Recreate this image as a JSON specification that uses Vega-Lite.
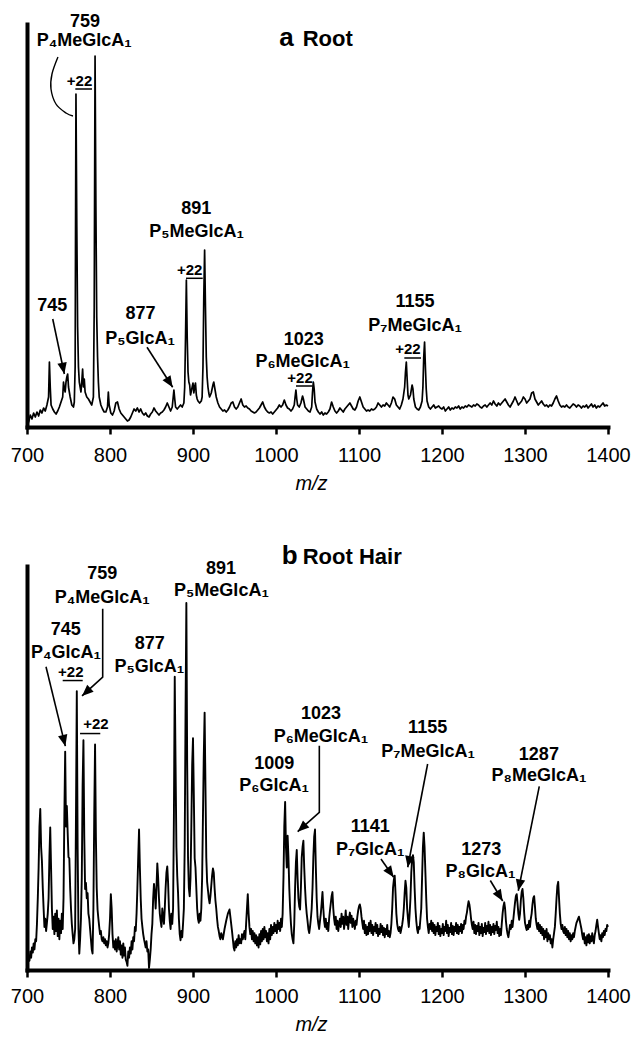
{
"$schema":"https://vega.github.io/schema/vega-lite/v6.json",
"padding":{"left":10,"top":13,"right":0,"bottom":0},
"spacing":139,
"bounds":"flush",
"config":{"view":{"stroke":null},"font":"Liberation Sans","axis":{"grid":false,"domainColor":"black","tickColor":"black","labelColor":"black","titleColor":"black","domainCap":"square"}},
"datasets":{
"specA":[{"mz":700,"i":8},{"mz":702,"i":5},{"mz":704,"i":12},{"mz":706,"i":8},{"mz":708,"i":14},{"mz":710,"i":10},{"mz":712,"i":15},{"mz":714,"i":11},{"mz":716,"i":17},{"mz":718,"i":14},{"mz":720,"i":19},{"mz":722,"i":16},{"mz":724,"i":22},{"mz":726,"i":30},{"mz":727,"i":65},{"mz":728,"i":40},{"mz":729,"i":22},{"mz":731,"i":18},{"mz":733,"i":15},{"mz":735,"i":13},{"mz":737,"i":16},{"mz":739,"i":20},{"mz":741,"i":25},{"mz":743,"i":30},{"mz":744,"i":45},{"mz":745,"i":38},{"mz":746,"i":35},{"mz":747,"i":45},{"mz":748,"i":50},{"mz":749,"i":53},{"mz":750,"i":40},{"mz":752,"i":30},{"mz":754,"i":22},{"mz":756,"i":20},{"mz":757,"i":25},{"mz":758,"i":60},{"mz":759,"i":333},{"mz":760,"i":200},{"mz":761,"i":100},{"mz":762,"i":60},{"mz":763,"i":45},{"mz":764,"i":40},{"mz":765,"i":35},{"mz":766,"i":45},{"mz":767,"i":58},{"mz":768,"i":40},{"mz":769,"i":48},{"mz":770,"i":35},{"mz":772,"i":30},{"mz":774,"i":28},{"mz":776,"i":25},{"mz":778,"i":22},{"mz":780,"i":30},{"mz":781,"i":120},{"mz":782,"i":371},{"mz":783,"i":220},{"mz":784,"i":110},{"mz":785,"i":70},{"mz":786,"i":45},{"mz":787,"i":30},{"mz":789,"i":22},{"mz":791,"i":18},{"mz":793,"i":15},{"mz":795,"i":15},{"mz":797,"i":20},{"mz":798,"i":35},{"mz":799,"i":22},{"mz":801,"i":14},{"mz":803,"i":12},{"mz":805,"i":16},{"mz":807,"i":24},{"mz":809,"i":25},{"mz":811,"i":18},{"mz":813,"i":14},{"mz":815,"i":12},{"mz":817,"i":10},{"mz":819,"i":8},{"mz":821,"i":6},{"mz":823,"i":7},{"mz":825,"i":10},{"mz":827,"i":14},{"mz":829,"i":18},{"mz":831,"i":16},{"mz":833,"i":19},{"mz":835,"i":15},{"mz":837,"i":18},{"mz":839,"i":14},{"mz":841,"i":12},{"mz":843,"i":14},{"mz":845,"i":11},{"mz":847,"i":10},{"mz":849,"i":13},{"mz":851,"i":15},{"mz":853,"i":19},{"mz":855,"i":16},{"mz":857,"i":14},{"mz":859,"i":12},{"mz":861,"i":14},{"mz":863,"i":15},{"mz":865,"i":17},{"mz":867,"i":20},{"mz":869,"i":24},{"mz":871,"i":20},{"mz":873,"i":16},{"mz":875,"i":20},{"mz":877,"i":37},{"mz":878,"i":28},{"mz":879,"i":20},{"mz":881,"i":18},{"mz":883,"i":20},{"mz":885,"i":22},{"mz":887,"i":20},{"mz":889,"i":24},{"mz":890,"i":40},{"mz":891,"i":90},{"mz":892,"i":147},{"mz":893,"i":90},{"mz":894,"i":55},{"mz":895,"i":45},{"mz":896,"i":42},{"mz":897,"i":32},{"mz":898,"i":36},{"mz":899,"i":40},{"mz":900,"i":44},{"mz":901,"i":34},{"mz":902,"i":40},{"mz":903,"i":44},{"mz":904,"i":32},{"mz":905,"i":28},{"mz":906,"i":26},{"mz":908,"i":24},{"mz":910,"i":26},{"mz":911,"i":30},{"mz":912,"i":60},{"mz":913,"i":130},{"mz":914,"i":177},{"mz":915,"i":120},{"mz":916,"i":70},{"mz":917,"i":50},{"mz":918,"i":40},{"mz":919,"i":34},{"mz":920,"i":30},{"mz":922,"i":34},{"mz":924,"i":42},{"mz":925,"i":45},{"mz":926,"i":40},{"mz":928,"i":30},{"mz":930,"i":24},{"mz":932,"i":20},{"mz":934,"i":18},{"mz":936,"i":16},{"mz":938,"i":17},{"mz":940,"i":15},{"mz":942,"i":17},{"mz":944,"i":20},{"mz":946,"i":24},{"mz":948,"i":25},{"mz":950,"i":20},{"mz":952,"i":18},{"mz":954,"i":20},{"mz":956,"i":24},{"mz":958,"i":28},{"mz":960,"i":22},{"mz":962,"i":20},{"mz":964,"i":21},{"mz":966,"i":19},{"mz":968,"i":18},{"mz":970,"i":16},{"mz":972,"i":15},{"mz":974,"i":14},{"mz":976,"i":15},{"mz":978,"i":17},{"mz":980,"i":19},{"mz":982,"i":22},{"mz":984,"i":25},{"mz":986,"i":20},{"mz":988,"i":17},{"mz":990,"i":15},{"mz":992,"i":14},{"mz":994,"i":15},{"mz":996,"i":13},{"mz":998,"i":15},{"mz":1000,"i":17},{"mz":1002,"i":19},{"mz":1004,"i":22},{"mz":1006,"i":20},{"mz":1008,"i":22},{"mz":1010,"i":27},{"mz":1012,"i":22},{"mz":1014,"i":19},{"mz":1016,"i":18},{"mz":1018,"i":16},{"mz":1020,"i":18},{"mz":1022,"i":22},{"mz":1023,"i":30},{"mz":1024,"i":37},{"mz":1025,"i":28},{"mz":1026,"i":22},{"mz":1028,"i":20},{"mz":1030,"i":24},{"mz":1032,"i":31},{"mz":1033,"i":28},{"mz":1035,"i":20},{"mz":1037,"i":18},{"mz":1039,"i":16},{"mz":1041,"i":15},{"mz":1043,"i":20},{"mz":1044,"i":35},{"mz":1045,"i":45},{"mz":1046,"i":38},{"mz":1047,"i":25},{"mz":1049,"i":18},{"mz":1051,"i":15},{"mz":1053,"i":13},{"mz":1055,"i":15},{"mz":1057,"i":12},{"mz":1059,"i":14},{"mz":1061,"i":13},{"mz":1063,"i":15},{"mz":1065,"i":18},{"mz":1067,"i":25},{"mz":1069,"i":20},{"mz":1071,"i":16},{"mz":1073,"i":14},{"mz":1075,"i":16},{"mz":1077,"i":19},{"mz":1079,"i":17},{"mz":1081,"i":15},{"mz":1083,"i":18},{"mz":1085,"i":20},{"mz":1087,"i":22},{"mz":1089,"i":24},{"mz":1091,"i":21},{"mz":1093,"i":18},{"mz":1095,"i":17},{"mz":1097,"i":20},{"mz":1099,"i":26},{"mz":1101,"i":30},{"mz":1103,"i":25},{"mz":1105,"i":20},{"mz":1107,"i":18},{"mz":1109,"i":16},{"mz":1111,"i":17},{"mz":1113,"i":16},{"mz":1115,"i":18},{"mz":1117,"i":17},{"mz":1119,"i":18},{"mz":1121,"i":20},{"mz":1123,"i":24},{"mz":1125,"i":22},{"mz":1127,"i":20},{"mz":1129,"i":22},{"mz":1131,"i":21},{"mz":1133,"i":24},{"mz":1135,"i":22},{"mz":1137,"i":20},{"mz":1139,"i":24},{"mz":1141,"i":30},{"mz":1143,"i":28},{"mz":1145,"i":22},{"mz":1147,"i":20},{"mz":1149,"i":18},{"mz":1151,"i":22},{"mz":1153,"i":28},{"mz":1155,"i":40},{"mz":1156,"i":55},{"mz":1157,"i":65},{"mz":1158,"i":48},{"mz":1159,"i":32},{"mz":1160,"i":28},{"mz":1162,"i":32},{"mz":1164,"i":42},{"mz":1165,"i":38},{"mz":1166,"i":28},{"mz":1168,"i":20},{"mz":1170,"i":18},{"mz":1172,"i":17},{"mz":1174,"i":20},{"mz":1176,"i":26},{"mz":1177,"i":40},{"mz":1178,"i":70},{"mz":1179,"i":85},{"mz":1180,"i":60},{"mz":1181,"i":38},{"mz":1182,"i":26},{"mz":1184,"i":20},{"mz":1186,"i":18},{"mz":1188,"i":20},{"mz":1190,"i":22},{"mz":1192,"i":19},{"mz":1194,"i":20},{"mz":1196,"i":21},{"mz":1198,"i":19},{"mz":1200,"i":18},{"mz":1202,"i":20},{"mz":1204,"i":16},{"mz":1206,"i":18},{"mz":1208,"i":20},{"mz":1210,"i":17},{"mz":1212,"i":19},{"mz":1214,"i":18},{"mz":1216,"i":20},{"mz":1218,"i":19},{"mz":1220,"i":21},{"mz":1222,"i":18},{"mz":1224,"i":20},{"mz":1226,"i":19},{"mz":1228,"i":21},{"mz":1230,"i":20},{"mz":1232,"i":22},{"mz":1234,"i":21},{"mz":1236,"i":20},{"mz":1238,"i":22},{"mz":1240,"i":21},{"mz":1242,"i":23},{"mz":1244,"i":22},{"mz":1246,"i":20},{"mz":1248,"i":19},{"mz":1250,"i":21},{"mz":1252,"i":22},{"mz":1254,"i":20},{"mz":1256,"i":22},{"mz":1258,"i":24},{"mz":1260,"i":22},{"mz":1262,"i":26},{"mz":1264,"i":23},{"mz":1266,"i":21},{"mz":1268,"i":24},{"mz":1270,"i":22},{"mz":1272,"i":24},{"mz":1274,"i":26},{"mz":1276,"i":28},{"mz":1278,"i":25},{"mz":1280,"i":22},{"mz":1282,"i":20},{"mz":1284,"i":23},{"mz":1286,"i":26},{"mz":1288,"i":30},{"mz":1290,"i":26},{"mz":1292,"i":22},{"mz":1294,"i":24},{"mz":1296,"i":26},{"mz":1298,"i":30},{"mz":1300,"i":28},{"mz":1302,"i":24},{"mz":1304,"i":26},{"mz":1306,"i":28},{"mz":1308,"i":34},{"mz":1310,"i":35},{"mz":1312,"i":28},{"mz":1314,"i":25},{"mz":1316,"i":22},{"mz":1318,"i":24},{"mz":1320,"i":26},{"mz":1322,"i":23},{"mz":1324,"i":21},{"mz":1326,"i":22},{"mz":1328,"i":20},{"mz":1330,"i":22},{"mz":1332,"i":21},{"mz":1334,"i":24},{"mz":1336,"i":28},{"mz":1338,"i":31},{"mz":1340,"i":26},{"mz":1342,"i":22},{"mz":1344,"i":20},{"mz":1346,"i":21},{"mz":1348,"i":20},{"mz":1350,"i":22},{"mz":1352,"i":20},{"mz":1354,"i":19},{"mz":1356,"i":21},{"mz":1358,"i":23},{"mz":1360,"i":22},{"mz":1362,"i":20},{"mz":1364,"i":22},{"mz":1366,"i":21},{"mz":1368,"i":19},{"mz":1370,"i":21},{"mz":1372,"i":20},{"mz":1374,"i":22},{"mz":1376,"i":19},{"mz":1378,"i":21},{"mz":1380,"i":23},{"mz":1382,"i":20},{"mz":1384,"i":22},{"mz":1386,"i":19},{"mz":1388,"i":21},{"mz":1390,"i":20},{"mz":1392,"i":22},{"mz":1394,"i":24},{"mz":1396,"i":21},{"mz":1398,"i":22},{"mz":1400,"i":21}],
"specB":[{"mz":700,"i":10},{"mz":701,"i":6},{"mz":702,"i":14},{"mz":703,"i":9},{"mz":704,"i":18},{"mz":705,"i":12},{"mz":706,"i":22},{"mz":707,"i":17},{"mz":708,"i":26},{"mz":709,"i":20},{"mz":710,"i":30},{"mz":711,"i":28},{"mz":712,"i":45},{"mz":713,"i":70},{"mz":714,"i":100},{"mz":715,"i":140},{"mz":716,"i":157},{"mz":717,"i":120},{"mz":718,"i":106},{"mz":719,"i":80},{"mz":720,"i":60},{"mz":721,"i":42},{"mz":722,"i":50},{"mz":723,"i":38},{"mz":724,"i":46},{"mz":725,"i":55},{"mz":726,"i":70},{"mz":727,"i":110},{"mz":728,"i":139},{"mz":729,"i":100},{"mz":730,"i":60},{"mz":731,"i":40},{"mz":732,"i":52},{"mz":733,"i":35},{"mz":734,"i":55},{"mz":735,"i":38},{"mz":736,"i":58},{"mz":737,"i":33},{"mz":738,"i":50},{"mz":739,"i":30},{"mz":740,"i":48},{"mz":741,"i":36},{"mz":742,"i":55},{"mz":743,"i":40},{"mz":744,"i":70},{"mz":745,"i":150},{"mz":746,"i":213},{"mz":747,"i":140},{"mz":748,"i":160},{"mz":749,"i":134},{"mz":750,"i":110},{"mz":751,"i":109},{"mz":752,"i":80},{"mz":753,"i":60},{"mz":754,"i":45},{"mz":755,"i":35},{"mz":756,"i":26},{"mz":757,"i":30},{"mz":758,"i":40},{"mz":759,"i":150},{"mz":760,"i":272},{"mz":761,"i":120},{"mz":762,"i":40},{"mz":763,"i":16},{"mz":764,"i":30},{"mz":765,"i":50},{"mz":766,"i":90},{"mz":767,"i":180},{"mz":768,"i":224},{"mz":769,"i":130},{"mz":770,"i":79},{"mz":771,"i":85},{"mz":772,"i":70},{"mz":773,"i":75},{"mz":774,"i":55},{"mz":775,"i":50},{"mz":776,"i":40},{"mz":777,"i":30},{"mz":778,"i":20},{"mz":779,"i":16},{"mz":780,"i":60},{"mz":781,"i":150},{"mz":782,"i":220},{"mz":783,"i":130},{"mz":784,"i":80},{"mz":785,"i":59},{"mz":786,"i":50},{"mz":787,"i":42},{"mz":788,"i":35},{"mz":789,"i":38},{"mz":790,"i":30},{"mz":791,"i":28},{"mz":792,"i":32},{"mz":793,"i":26},{"mz":794,"i":30},{"mz":795,"i":24},{"mz":796,"i":28},{"mz":797,"i":22},{"mz":798,"i":26},{"mz":799,"i":35},{"mz":800,"i":50},{"mz":801,"i":74},{"mz":802,"i":60},{"mz":803,"i":35},{"mz":804,"i":22},{"mz":805,"i":28},{"mz":806,"i":20},{"mz":807,"i":30},{"mz":808,"i":18},{"mz":809,"i":25},{"mz":810,"i":32},{"mz":811,"i":20},{"mz":812,"i":28},{"mz":813,"i":15},{"mz":814,"i":24},{"mz":815,"i":12},{"mz":816,"i":26},{"mz":817,"i":14},{"mz":818,"i":22},{"mz":819,"i":10},{"mz":820,"i":8},{"mz":821,"i":4},{"mz":822,"i":18},{"mz":823,"i":12},{"mz":824,"i":22},{"mz":825,"i":16},{"mz":826,"i":28},{"mz":827,"i":20},{"mz":828,"i":32},{"mz":829,"i":28},{"mz":830,"i":42},{"mz":831,"i":38},{"mz":832,"i":55},{"mz":833,"i":80},{"mz":834,"i":110},{"mz":835,"i":137},{"mz":836,"i":100},{"mz":837,"i":70},{"mz":838,"i":50},{"mz":839,"i":42},{"mz":840,"i":35},{"mz":841,"i":30},{"mz":842,"i":26},{"mz":843,"i":22},{"mz":844,"i":28},{"mz":845,"i":18},{"mz":846,"i":20},{"mz":847,"i":2},{"mz":848,"i":10},{"mz":849,"i":20},{"mz":850,"i":35},{"mz":851,"i":45},{"mz":852,"i":70},{"mz":853,"i":84},{"mz":854,"i":75},{"mz":855,"i":60},{"mz":856,"i":80},{"mz":857,"i":104},{"mz":858,"i":90},{"mz":859,"i":70},{"mz":860,"i":55},{"mz":861,"i":48},{"mz":862,"i":42},{"mz":863,"i":60},{"mz":864,"i":52},{"mz":865,"i":45},{"mz":866,"i":60},{"mz":867,"i":80},{"mz":868,"i":95},{"mz":869,"i":101},{"mz":870,"i":85},{"mz":871,"i":60},{"mz":872,"i":48},{"mz":873,"i":40},{"mz":874,"i":55},{"mz":875,"i":45},{"mz":876,"i":60},{"mz":877,"i":150},{"mz":878,"i":286},{"mz":879,"i":200},{"mz":880,"i":120},{"mz":881,"i":92},{"mz":882,"i":75},{"mz":883,"i":50},{"mz":884,"i":35},{"mz":885,"i":29},{"mz":886,"i":38},{"mz":887,"i":32},{"mz":888,"i":45},{"mz":889,"i":60},{"mz":890,"i":120},{"mz":891,"i":250},{"mz":892,"i":358},{"mz":893,"i":200},{"mz":894,"i":110},{"mz":895,"i":80},{"mz":896,"i":72},{"mz":897,"i":90},{"mz":898,"i":140},{"mz":899,"i":200},{"mz":900,"i":226},{"mz":901,"i":170},{"mz":902,"i":109},{"mz":903,"i":100},{"mz":904,"i":80},{"mz":905,"i":60},{"mz":906,"i":50},{"mz":907,"i":46},{"mz":908,"i":55},{"mz":909,"i":48},{"mz":910,"i":60},{"mz":911,"i":90},{"mz":912,"i":150},{"mz":913,"i":210},{"mz":914,"i":251},{"mz":915,"i":180},{"mz":916,"i":110},{"mz":917,"i":86},{"mz":918,"i":78},{"mz":919,"i":70},{"mz":920,"i":65},{"mz":921,"i":72},{"mz":922,"i":82},{"mz":923,"i":92},{"mz":924,"i":99},{"mz":925,"i":95},{"mz":926,"i":80},{"mz":927,"i":68},{"mz":928,"i":60},{"mz":929,"i":50},{"mz":930,"i":42},{"mz":931,"i":38},{"mz":932,"i":33},{"mz":933,"i":30},{"mz":934,"i":36},{"mz":936,"i":30},{"mz":938,"i":40},{"mz":940,"i":48},{"mz":942,"i":55},{"mz":944,"i":59},{"mz":945,"i":52},{"mz":946,"i":45},{"mz":947,"i":38},{"mz":948,"i":30},{"mz":949,"i":22},{"mz":950,"i":19},{"mz":951,"i":28},{"mz":952,"i":22},{"mz":953,"i":30},{"mz":954,"i":24},{"mz":955,"i":34},{"mz":956,"i":26},{"mz":957,"i":30},{"mz":958,"i":26},{"mz":959,"i":35},{"mz":960,"i":30},{"mz":962,"i":38},{"mz":963,"i":30},{"mz":964,"i":45},{"mz":965,"i":60},{"mz":966,"i":74},{"mz":967,"i":55},{"mz":968,"i":42},{"mz":969,"i":35},{"mz":970,"i":40},{"mz":971,"i":30},{"mz":972,"i":38},{"mz":973,"i":28},{"mz":974,"i":36},{"mz":975,"i":26},{"mz":976,"i":34},{"mz":977,"i":24},{"mz":978,"i":32},{"mz":979,"i":22},{"mz":980,"i":35},{"mz":981,"i":25},{"mz":982,"i":38},{"mz":983,"i":28},{"mz":984,"i":40},{"mz":985,"i":30},{"mz":986,"i":42},{"mz":987,"i":32},{"mz":988,"i":38},{"mz":989,"i":28},{"mz":990,"i":36},{"mz":991,"i":26},{"mz":992,"i":40},{"mz":993,"i":30},{"mz":994,"i":44},{"mz":995,"i":34},{"mz":996,"i":42},{"mz":997,"i":36},{"mz":998,"i":46},{"mz":999,"i":38},{"mz":1000,"i":44},{"mz":1001,"i":36},{"mz":1002,"i":48},{"mz":1003,"i":40},{"mz":1004,"i":46},{"mz":1005,"i":38},{"mz":1006,"i":50},{"mz":1007,"i":42},{"mz":1008,"i":55},{"mz":1009,"i":90},{"mz":1010,"i":140},{"mz":1011,"i":164},{"mz":1012,"i":120},{"mz":1013,"i":100},{"mz":1014,"i":131},{"mz":1015,"i":110},{"mz":1016,"i":80},{"mz":1017,"i":60},{"mz":1018,"i":45},{"mz":1019,"i":35},{"mz":1020,"i":30},{"mz":1021,"i":26},{"mz":1022,"i":45},{"mz":1023,"i":80},{"mz":1024,"i":105},{"mz":1025,"i":117},{"mz":1026,"i":90},{"mz":1027,"i":70},{"mz":1028,"i":62},{"mz":1029,"i":59},{"mz":1030,"i":80},{"mz":1031,"i":110},{"mz":1032,"i":120},{"mz":1033,"i":126},{"mz":1034,"i":100},{"mz":1035,"i":80},{"mz":1036,"i":65},{"mz":1037,"i":55},{"mz":1038,"i":48},{"mz":1039,"i":40},{"mz":1040,"i":36},{"mz":1041,"i":42},{"mz":1042,"i":50},{"mz":1043,"i":60},{"mz":1044,"i":80},{"mz":1045,"i":110},{"mz":1046,"i":130},{"mz":1047,"i":137},{"mz":1048,"i":100},{"mz":1049,"i":70},{"mz":1050,"i":52},{"mz":1051,"i":45},{"mz":1052,"i":40},{"mz":1053,"i":48},{"mz":1054,"i":55},{"mz":1055,"i":65},{"mz":1056,"i":76},{"mz":1057,"i":60},{"mz":1058,"i":48},{"mz":1059,"i":42},{"mz":1060,"i":50},{"mz":1061,"i":40},{"mz":1062,"i":46},{"mz":1063,"i":38},{"mz":1064,"i":50},{"mz":1065,"i":58},{"mz":1066,"i":65},{"mz":1067,"i":72},{"mz":1068,"i":76},{"mz":1069,"i":60},{"mz":1070,"i":50},{"mz":1071,"i":44},{"mz":1072,"i":52},{"mz":1073,"i":40},{"mz":1074,"i":48},{"mz":1075,"i":38},{"mz":1076,"i":45},{"mz":1077,"i":50},{"mz":1078,"i":42},{"mz":1079,"i":55},{"mz":1080,"i":45},{"mz":1081,"i":52},{"mz":1082,"i":40},{"mz":1083,"i":48},{"mz":1084,"i":58},{"mz":1085,"i":44},{"mz":1086,"i":52},{"mz":1087,"i":40},{"mz":1088,"i":50},{"mz":1089,"i":56},{"mz":1090,"i":46},{"mz":1091,"i":53},{"mz":1092,"i":42},{"mz":1093,"i":50},{"mz":1094,"i":45},{"mz":1095,"i":40},{"mz":1096,"i":48},{"mz":1097,"i":44},{"mz":1098,"i":52},{"mz":1099,"i":58},{"mz":1100,"i":62},{"mz":1101,"i":64},{"mz":1102,"i":60},{"mz":1103,"i":52},{"mz":1104,"i":46},{"mz":1105,"i":40},{"mz":1106,"i":48},{"mz":1107,"i":36},{"mz":1108,"i":44},{"mz":1109,"i":34},{"mz":1110,"i":42},{"mz":1111,"i":35},{"mz":1112,"i":46},{"mz":1113,"i":38},{"mz":1114,"i":48},{"mz":1115,"i":36},{"mz":1116,"i":44},{"mz":1117,"i":34},{"mz":1118,"i":42},{"mz":1119,"i":38},{"mz":1120,"i":46},{"mz":1121,"i":36},{"mz":1122,"i":44},{"mz":1123,"i":33},{"mz":1124,"i":40},{"mz":1125,"i":35},{"mz":1126,"i":45},{"mz":1127,"i":37},{"mz":1128,"i":43},{"mz":1129,"i":34},{"mz":1130,"i":41},{"mz":1131,"i":32},{"mz":1132,"i":40},{"mz":1133,"i":35},{"mz":1134,"i":44},{"mz":1135,"i":33},{"mz":1136,"i":38},{"mz":1137,"i":32},{"mz":1138,"i":36},{"mz":1139,"i":45},{"mz":1140,"i":60},{"mz":1141,"i":80},{"mz":1142,"i":88},{"mz":1143,"i":92},{"mz":1144,"i":75},{"mz":1145,"i":55},{"mz":1146,"i":45},{"mz":1147,"i":40},{"mz":1148,"i":38},{"mz":1149,"i":42},{"mz":1150,"i":36},{"mz":1151,"i":40},{"mz":1152,"i":44},{"mz":1153,"i":50},{"mz":1154,"i":60},{"mz":1155,"i":75},{"mz":1156,"i":87},{"mz":1157,"i":80},{"mz":1158,"i":60},{"mz":1159,"i":50},{"mz":1160,"i":42},{"mz":1161,"i":55},{"mz":1162,"i":70},{"mz":1163,"i":95},{"mz":1164,"i":108},{"mz":1165,"i":112},{"mz":1166,"i":105},{"mz":1167,"i":80},{"mz":1168,"i":60},{"mz":1169,"i":48},{"mz":1170,"i":40},{"mz":1171,"i":36},{"mz":1172,"i":42},{"mz":1173,"i":40},{"mz":1174,"i":50},{"mz":1175,"i":60},{"mz":1176,"i":90},{"mz":1177,"i":120},{"mz":1178,"i":134},{"mz":1179,"i":120},{"mz":1180,"i":95},{"mz":1181,"i":70},{"mz":1182,"i":50},{"mz":1183,"i":42},{"mz":1184,"i":36},{"mz":1185,"i":45},{"mz":1186,"i":40},{"mz":1187,"i":48},{"mz":1188,"i":38},{"mz":1189,"i":46},{"mz":1190,"i":36},{"mz":1191,"i":44},{"mz":1192,"i":34},{"mz":1193,"i":42},{"mz":1194,"i":38},{"mz":1195,"i":46},{"mz":1196,"i":35},{"mz":1197,"i":43},{"mz":1198,"i":33},{"mz":1199,"i":40},{"mz":1200,"i":36},{"mz":1201,"i":45},{"mz":1202,"i":34},{"mz":1203,"i":42},{"mz":1204,"i":38},{"mz":1205,"i":48},{"mz":1206,"i":36},{"mz":1207,"i":44},{"mz":1208,"i":33},{"mz":1209,"i":41},{"mz":1210,"i":37},{"mz":1211,"i":46},{"mz":1212,"i":35},{"mz":1213,"i":43},{"mz":1214,"i":34},{"mz":1215,"i":42},{"mz":1216,"i":38},{"mz":1217,"i":46},{"mz":1218,"i":36},{"mz":1219,"i":44},{"mz":1220,"i":35},{"mz":1221,"i":42},{"mz":1222,"i":38},{"mz":1223,"i":45},{"mz":1224,"i":36},{"mz":1225,"i":44},{"mz":1226,"i":40},{"mz":1227,"i":48},{"mz":1228,"i":45},{"mz":1229,"i":52},{"mz":1230,"i":56},{"mz":1231,"i":62},{"mz":1232,"i":67},{"mz":1233,"i":64},{"mz":1234,"i":58},{"mz":1235,"i":50},{"mz":1236,"i":44},{"mz":1237,"i":40},{"mz":1238,"i":47},{"mz":1239,"i":36},{"mz":1240,"i":44},{"mz":1241,"i":35},{"mz":1242,"i":43},{"mz":1243,"i":38},{"mz":1244,"i":46},{"mz":1245,"i":34},{"mz":1246,"i":42},{"mz":1247,"i":36},{"mz":1248,"i":45},{"mz":1249,"i":33},{"mz":1250,"i":41},{"mz":1251,"i":37},{"mz":1252,"i":46},{"mz":1253,"i":35},{"mz":1254,"i":43},{"mz":1255,"i":38},{"mz":1256,"i":47},{"mz":1257,"i":36},{"mz":1258,"i":44},{"mz":1259,"i":34},{"mz":1260,"i":42},{"mz":1261,"i":37},{"mz":1262,"i":45},{"mz":1263,"i":35},{"mz":1264,"i":43},{"mz":1265,"i":39},{"mz":1266,"i":47},{"mz":1267,"i":36},{"mz":1268,"i":42},{"mz":1269,"i":33},{"mz":1270,"i":40},{"mz":1271,"i":34},{"mz":1272,"i":45},{"mz":1273,"i":55},{"mz":1274,"i":62},{"mz":1275,"i":66},{"mz":1276,"i":60},{"mz":1277,"i":48},{"mz":1278,"i":40},{"mz":1279,"i":35},{"mz":1280,"i":32},{"mz":1281,"i":38},{"mz":1282,"i":44},{"mz":1283,"i":40},{"mz":1284,"i":48},{"mz":1285,"i":42},{"mz":1286,"i":50},{"mz":1287,"i":58},{"mz":1288,"i":66},{"mz":1289,"i":72},{"mz":1290,"i":74},{"mz":1291,"i":65},{"mz":1292,"i":55},{"mz":1293,"i":49},{"mz":1294,"i":55},{"mz":1295,"i":68},{"mz":1296,"i":76},{"mz":1297,"i":79},{"mz":1298,"i":70},{"mz":1299,"i":56},{"mz":1300,"i":46},{"mz":1301,"i":42},{"mz":1302,"i":39},{"mz":1303,"i":44},{"mz":1304,"i":40},{"mz":1305,"i":48},{"mz":1306,"i":42},{"mz":1307,"i":50},{"mz":1308,"i":55},{"mz":1309,"i":64},{"mz":1310,"i":70},{"mz":1311,"i":72},{"mz":1312,"i":62},{"mz":1313,"i":50},{"mz":1314,"i":44},{"mz":1315,"i":40},{"mz":1316,"i":46},{"mz":1317,"i":38},{"mz":1318,"i":44},{"mz":1319,"i":36},{"mz":1320,"i":42},{"mz":1321,"i":34},{"mz":1322,"i":40},{"mz":1323,"i":30},{"mz":1324,"i":38},{"mz":1325,"i":32},{"mz":1326,"i":40},{"mz":1327,"i":28},{"mz":1328,"i":36},{"mz":1329,"i":30},{"mz":1330,"i":34},{"mz":1331,"i":26},{"mz":1332,"i":30},{"mz":1333,"i":22},{"mz":1334,"i":30},{"mz":1335,"i":36},{"mz":1336,"i":42},{"mz":1337,"i":55},{"mz":1338,"i":70},{"mz":1339,"i":82},{"mz":1340,"i":86},{"mz":1341,"i":70},{"mz":1342,"i":55},{"mz":1343,"i":45},{"mz":1344,"i":40},{"mz":1345,"i":44},{"mz":1346,"i":38},{"mz":1347,"i":36},{"mz":1348,"i":42},{"mz":1349,"i":34},{"mz":1350,"i":40},{"mz":1351,"i":32},{"mz":1352,"i":38},{"mz":1353,"i":30},{"mz":1354,"i":36},{"mz":1355,"i":28},{"mz":1356,"i":34},{"mz":1357,"i":30},{"mz":1358,"i":36},{"mz":1359,"i":32},{"mz":1360,"i":38},{"mz":1361,"i":42},{"mz":1362,"i":46},{"mz":1363,"i":48},{"mz":1364,"i":50},{"mz":1365,"i":52},{"mz":1366,"i":48},{"mz":1367,"i":44},{"mz":1368,"i":40},{"mz":1369,"i":34},{"mz":1370,"i":30},{"mz":1371,"i":36},{"mz":1372,"i":26},{"mz":1373,"i":32},{"mz":1374,"i":24},{"mz":1375,"i":34},{"mz":1376,"i":27},{"mz":1377,"i":35},{"mz":1378,"i":26},{"mz":1379,"i":33},{"mz":1380,"i":28},{"mz":1381,"i":36},{"mz":1382,"i":30},{"mz":1383,"i":26},{"mz":1384,"i":34},{"mz":1385,"i":38},{"mz":1386,"i":44},{"mz":1387,"i":49},{"mz":1388,"i":42},{"mz":1389,"i":36},{"mz":1390,"i":30},{"mz":1391,"i":34},{"mz":1392,"i":28},{"mz":1393,"i":36},{"mz":1394,"i":32},{"mz":1395,"i":38},{"mz":1396,"i":34},{"mz":1397,"i":40},{"mz":1398,"i":38},{"mz":1399,"i":44},{"mz":1400,"i":42}],
"labA":[{"mz":770,"i":399.7,"t":"759"},{"mz":769,"i":381.3,"t":"P₄MeGlcA₁"},{"mz":730.5,"i":116.5,"t":"745"},{"mz":836.7,"i":108.5,"t":"877"},{"mz":836.4,"i":83.5,"t":"P₅GlcA₁"},{"mz":904,"i":213.5,"t":"891"},{"mz":904.2,"i":190.5,"t":"P₅MeGlcA₁"},{"mz":1033.4,"i":82,"t":"1023"},{"mz":1032.2,"i":60,"t":"P₆MeGlcA₁"},{"mz":1167.5,"i":120,"t":"1155"},{"mz":1167.5,"i":96.5,"t":"P₇MeGlcA₁"}],
"plusA":[{"mz":763.3,"i":340.7,"t":"+22"},{"mz":896,"i":151.6,"t":"+22"},{"mz":1029,"i":44,"t":"+22"},{"mz":1159,"i":73,"t":"+22"}],
"ulA":[{"mz":758.2,"mz2":778.3,"i":338},{"mz":891.6,"mz2":911.7,"i":148.7},{"mz":1024.1,"mz2":1044.2,"i":41},{"mz":1154.6,"mz2":1174.7,"i":69}],
"curveA":[{"id":"c","o":1,"mz":737.3,"i":370},{"id":"c","o":2,"mz":730.1,"i":353},{"id":"c","o":3,"mz":728.9,"i":338},{"id":"c","o":4,"mz":734.9,"i":323},{"id":"c","o":5,"mz":747,"i":314},{"id":"c","o":6,"mz":755.4,"i":311}],
"arrA":[{"id":"a745","o":1,"mz":731,"i":108},{"id":"a745","o":2,"mz":745,"i":53},{"id":"a877","o":1,"mz":844.6,"i":79.7},{"id":"a877","o":2,"mz":875.5,"i":39.7}],
"headA":[{"mz":745,"i":53,"ang":348.3},{"mz":875.5,"i":39.7,"ang":327.4}],
"titA":[{"mz":1004,"i":381.3,"t":"a","s":26},{"mz":1032.2,"i":381.3,"t":"Root","s":22}],
"labB":[{"mz":790.8,"i":381.3,"t":"759"},{"mz":790.6,"i":357.9,"t":"P₄MeGlcA₁"},{"mz":746.6,"i":326.7,"t":"745"},{"mz":747,"i":304,"t":"P₄GlcA₁"},{"mz":847.8,"i":312.7,"t":"877"},{"mz":847.4,"i":291,"t":"P₅GlcA₁"},{"mz":933.7,"i":386.2,"t":"891"},{"mz":934.3,"i":364.5,"t":"P₅MeGlcA₁"},{"mz":1054.2,"i":244.3,"t":"1023"},{"mz":1054.2,"i":222.2,"t":"P₆MeGlcA₁"},{"mz":998,"i":196.2,"t":"1009"},{"mz":997.6,"i":175,"t":"P₆GlcA₁"},{"mz":1182.7,"i":230.9,"t":"1155"},{"mz":1183.3,"i":207.6,"t":"P₇MeGlcA₁"},{"mz":1113.5,"i":134.4,"t":"1141"},{"mz":1113.5,"i":111.7,"t":"P₇GlcA₁"},{"mz":1316.7,"i":204.9,"t":"1287"},{"mz":1316.9,"i":184.2,"t":"P₈MeGlcA₁"},{"mz":1247.4,"i":112.4,"t":"1273"},{"mz":1246.4,"i":90.7,"t":"P₈GlcA₁"}],
"plusB":[{"mz":752.8,"i":286.2,"t":"+22"},{"mz":783.1,"i":235.5,"t":"+22"}],
"ulB":[{"mz":743,"mz2":767.1,"i":282.3},{"mz":763.9,"mz2":788.3,"i":230.6}],
"arrB":[{"id":"b759","o":1,"mz":791.2,"i":352.3},{"id":"b759","o":2,"mz":791.2,"i":285.7},{"id":"b759","o":3,"mz":766.3,"i":267.3},{"id":"b745","o":1,"mz":722.9,"i":295.7},{"id":"b745","o":2,"mz":746.2,"i":218.3},{"id":"b1023","o":1,"mz":1052.2,"i":218.7},{"id":"b1023","o":2,"mz":1052.2,"i":153.8},{"id":"b1023","o":3,"mz":1026.1,"i":134.9},{"id":"b1155","o":1,"mz":1182.7,"i":200.9},{"id":"b1155","o":2,"mz":1158.7,"i":100.2},{"id":"b1141","o":1,"mz":1126.5,"i":108.2},{"id":"b1141","o":2,"mz":1141.8,"i":90.4},{"id":"b1287","o":1,"mz":1317.2,"i":179},{"id":"b1287","o":2,"mz":1291.9,"i":77.3},{"id":"b1273","o":1,"mz":1258.2,"i":87.3},{"id":"b1273","o":2,"mz":1273.1,"i":67.3}],
"headB":[{"mz":766.3,"i":267.3,"ang":47.6},{"mz":746.2,"i":218.3,"ang":346.3},{"mz":1026.1,"i":134.9,"ang":48.2},{"mz":1158.7,"i":100.2,"ang":10.9},{"mz":1141.8,"i":90.4,"ang":325.1},{"mz":1291.9,"i":77.3,"ang":11.4},{"mz":1273.1,"i":67.3,"ang":328.8}],
"titB":[{"mz":1006.9,"i":396,"t":"b","s":26},{"mz":1032.2,"i":396,"t":"Root Hair","s":22}]
},
"vconcat":[
{"width":581,"height":403,
"encoding":{
"x":{"field":"mz","type":"quantitative","scale":{"domain":[700,1400],"nice":false,"zero":false},"axis":{"values":[700,800,900,1000,1100,1200,1300,1400],"format":"d","title":"m/z","titleFontStyle":"italic","titleFontWeight":"normal","titleFontSize":20,"titleFont":"Liberation Sans","labelFont":"Liberation Sans","labelFontSize":20,"tickSize":7,"tickWidth":2.5,"domainWidth":4,"labelPadding":11,"titlePadding":8,"titleX":284,"labelFlush":false}},
"y":{"field":"i","type":"quantitative","scale":{"domain":[0,403],"nice":false,"zero":false},"axis":{"labels":false,"ticks":false,"title":null,"domainWidth":4}}},
"layer":[
{"data":{"name":"specA"},"mark":{"type":"line","color":"black","strokeWidth":1.7,"strokeJoin":"round"}},
{"data":{"name":"curveA"},"mark":{"type":"line","color":"black","strokeWidth":1.4,"interpolate":"cardinal"},"encoding":{"detail":{"field":"id"},"order":{"field":"o"}}},
{"data":{"name":"arrA"},"mark":{"type":"line","color":"black","strokeWidth":1.6},"encoding":{"detail":{"field":"id"},"order":{"field":"o"}}},
{"data":{"name":"headA"},"mark":{"type":"point","shape":"M0,0L-1,-2.4L1,-2.4Z","filled":true,"size":90,"color":"black","opacity":1,"strokeWidth":0},"encoding":{"angle":{"field":"ang","type":"quantitative","scale":null}}},
{"data":{"name":"ulA"},"mark":{"type":"rule","color":"black","strokeWidth":1.5},"encoding":{"x2":{"field":"mz2"}}},
{"data":{"name":"labA"},"mark":{"type":"text","fontWeight":"bold","fontSize":18,"align":"center","baseline":"alphabetic","color":"black"},"encoding":{"text":{"field":"t"}}},
{"data":{"name":"plusA"},"mark":{"type":"text","fontWeight":"bold","fontSize":15,"align":"center","baseline":"alphabetic","color":"black"},"encoding":{"text":{"field":"t"}}},
{"data":{"name":"titA"},"mark":{"type":"text","fontWeight":"bold","align":"left","baseline":"alphabetic","color":"black"},"encoding":{"text":{"field":"t"},"size":{"field":"s","type":"quantitative","scale":null}}}
]},
{"width":581,"height":404,
"encoding":{
"x":{"field":"mz","type":"quantitative","scale":{"domain":[700,1400],"nice":false,"zero":false},"axis":{"values":[700,800,900,1000,1100,1200,1300,1400],"format":"d","title":"m/z","titleFontStyle":"italic","titleFontWeight":"normal","titleFontSize":20,"titleFont":"Liberation Sans","labelFont":"Liberation Sans","labelFontSize":20,"tickSize":7,"tickWidth":2.5,"domainWidth":4,"labelPadding":9,"titlePadding":8,"titleX":284,"labelFlush":false}},
"y":{"field":"i","type":"quantitative","scale":{"domain":[0,394],"nice":false,"zero":false},"axis":{"labels":false,"ticks":false,"title":null,"domainWidth":4}}},
"layer":[
{"data":{"name":"specB"},"mark":{"type":"line","color":"black","strokeWidth":1.9,"strokeJoin":"round"}},
{"data":{"name":"arrB"},"mark":{"type":"line","color":"black","strokeWidth":1.6},"encoding":{"detail":{"field":"id"},"order":{"field":"o"}}},
{"data":{"name":"headB"},"mark":{"type":"point","shape":"M0,0L-1,-2.4L1,-2.4Z","filled":true,"size":90,"color":"black","opacity":1,"strokeWidth":0},"encoding":{"angle":{"field":"ang","type":"quantitative","scale":null}}},
{"data":{"name":"ulB"},"mark":{"type":"rule","color":"black","strokeWidth":1.5},"encoding":{"x2":{"field":"mz2"}}},
{"data":{"name":"labB"},"mark":{"type":"text","fontWeight":"bold","fontSize":18,"align":"center","baseline":"alphabetic","color":"black"},"encoding":{"text":{"field":"t"}}},
{"data":{"name":"plusB"},"mark":{"type":"text","fontWeight":"bold","fontSize":15,"align":"center","baseline":"alphabetic","color":"black"},"encoding":{"text":{"field":"t"}}},
{"data":{"name":"titB"},"mark":{"type":"text","fontWeight":"bold","align":"left","baseline":"alphabetic","color":"black"},"encoding":{"text":{"field":"t"},"size":{"field":"s","type":"quantitative","scale":null}}}
]}
]
}
